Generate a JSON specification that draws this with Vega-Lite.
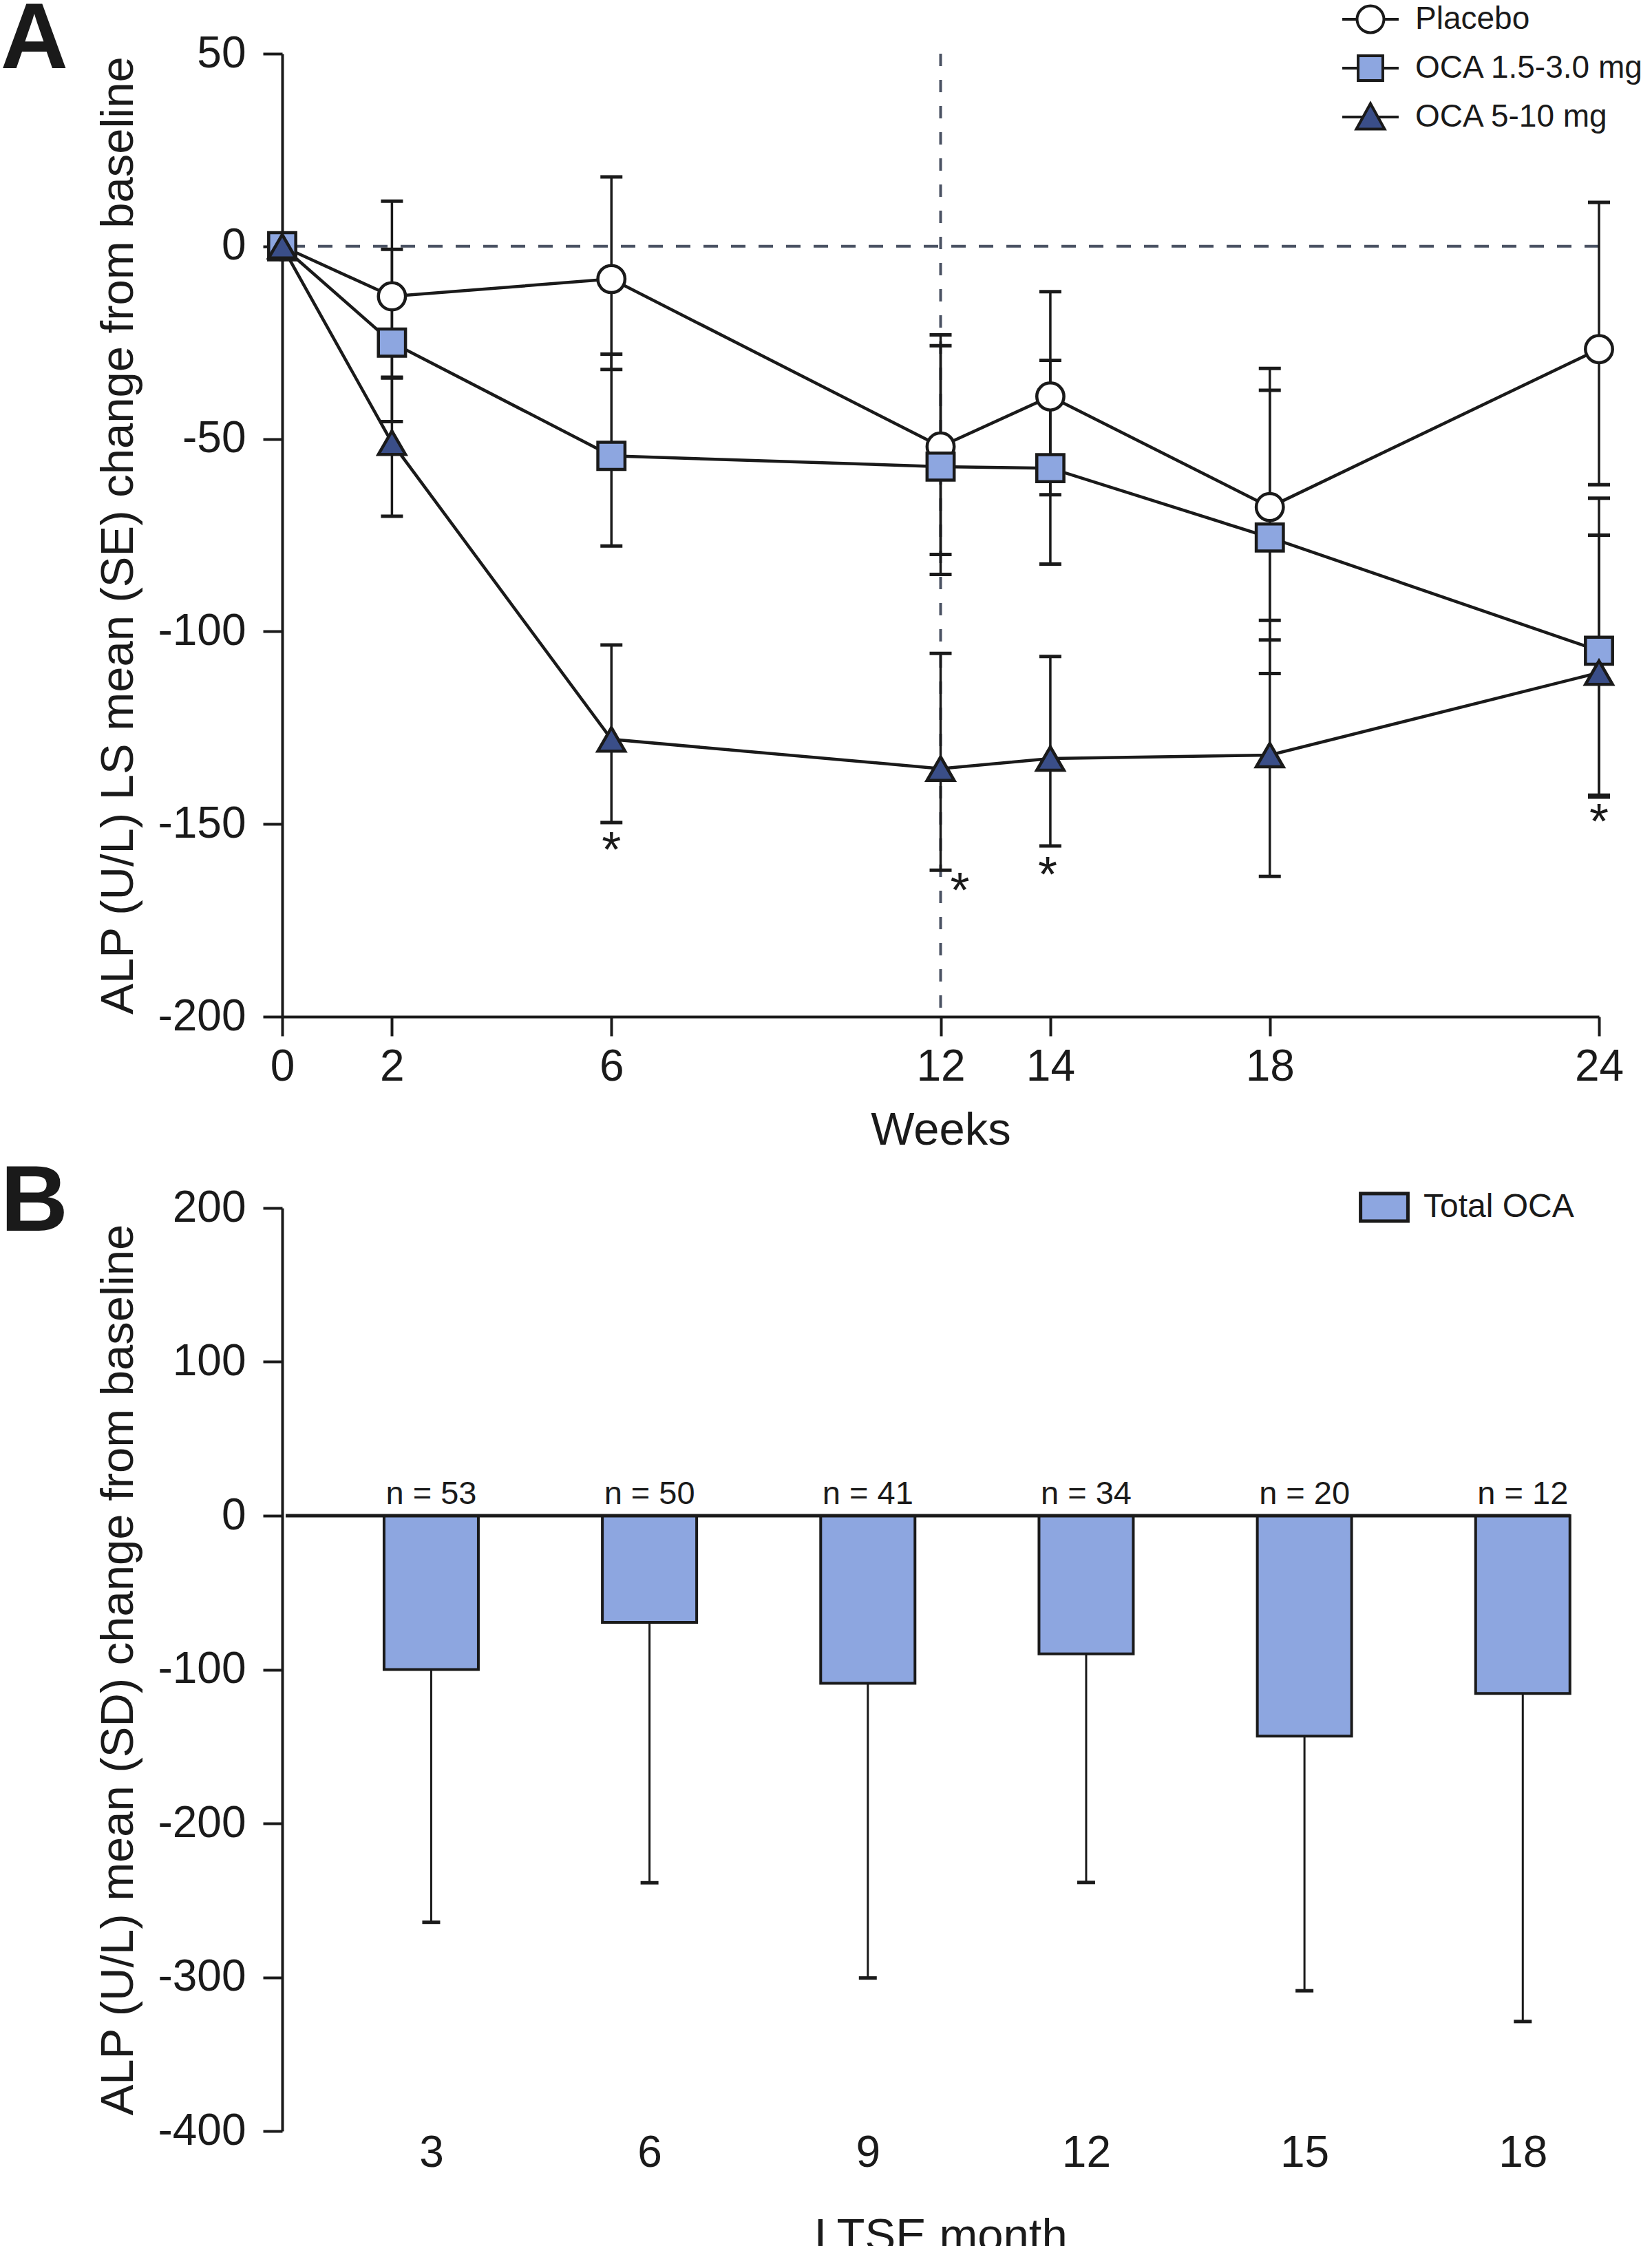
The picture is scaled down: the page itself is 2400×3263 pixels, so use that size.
{
  "$schema": "https://vega.github.io/schema/vega-lite/v6.json",
  "background": "white",
  "padding": {"top": -10, "left": 0, "right": 0, "bottom": 0},
  "spacing": 4,
  "resolve": {"scale": {"fill": "independent", "shape": "independent"}, "legend": {"fill": "independent", "shape": "independent"}},
  "config": {
    "font": "Liberation Sans",
    "view": {"stroke": null},
    "axis": {
      "labelFont": "Liberation Sans", "titleFont": "Liberation Sans",
      "labelColor": "#1a1a1a", "titleColor": "#1a1a1a",
      "domainColor": "#1a1a1a", "tickColor": "#1a1a1a",
      "grid": false, "labelFontSize": 64, "titleFontSize": 67, "titleFontWeight": "normal",
      "domainWidth": 4, "tickWidth": 4, "tickSize": 28, "labelPadding": 25, "titlePadding": 22,
      "labelFlush": false,
      "labelExpr": "'' + datum.value"
    },
    "legend": {"labelFont": "Liberation Sans", "labelColor": "#1a1a1a", "labelLimit": 0}
  },
  "datasets": {
    "a": [
      {"week": 0, "group": "Placebo", "mean": 0, "lo": null, "hi": null},
      {"week": 2, "group": "Placebo", "mean": -13, "lo": -34, "hi": 11.7},
      {"week": 6, "group": "Placebo", "mean": -8.5, "lo": -32, "hi": 18},
      {"week": 12, "group": "Placebo", "mean": -52, "lo": -80, "hi": -23},
      {"week": 14, "group": "Placebo", "mean": -39, "lo": -64.5, "hi": -11.8},
      {"week": 18, "group": "Placebo", "mean": -67.7, "lo": -102.2, "hi": -31.7},
      {"week": 24, "group": "Placebo", "mean": -26.7, "lo": -61.9, "hi": 11.4},
      {"week": 0, "group": "OCA 1.5-3.0 mg", "mean": 0, "lo": null, "hi": null},
      {"week": 2, "group": "OCA 1.5-3.0 mg", "mean": -25, "lo": -45.5, "hi": -0.8},
      {"week": 6, "group": "OCA 1.5-3.0 mg", "mean": -54.4, "lo": -77.8, "hi": -28},
      {"week": 12, "group": "OCA 1.5-3.0 mg", "mean": -57.2, "lo": -85.2, "hi": -25.8},
      {"week": 14, "group": "OCA 1.5-3.0 mg", "mean": -57.6, "lo": -82.5, "hi": -29.6},
      {"week": 18, "group": "OCA 1.5-3.0 mg", "mean": -75.6, "lo": -110.9, "hi": -37.4},
      {"week": 24, "group": "OCA 1.5-3.0 mg", "mean": -105, "lo": -142.5, "hi": -65.4},
      {"week": 0, "group": "OCA 5-10 mg", "mean": 0, "lo": null, "hi": null},
      {"week": 2, "group": "OCA 5-10 mg", "mean": -51, "lo": -70.1, "hi": -34.2},
      {"week": 6, "group": "OCA 5-10 mg", "mean": -128, "lo": -149.6, "hi": -103.5},
      {"week": 12, "group": "OCA 5-10 mg", "mean": -135.6, "lo": -162, "hi": -105.7},
      {"week": 14, "group": "OCA 5-10 mg", "mean": -133, "lo": -155.7, "hi": -106.5},
      {"week": 18, "group": "OCA 5-10 mg", "mean": -132.1, "lo": -163.6, "hi": -97.1},
      {"week": 24, "group": "OCA 5-10 mg", "mean": -110.7, "lo": -143, "hi": -75}
    ],
    "stars": [
      {"week": 6, "value": -155.4, "sig": "*"},
      {"week": 12.35, "value": -165.9, "sig": "*"},
      {"week": 13.95, "value": -161.8, "sig": "*"},
      {"week": 24, "value": -148, "sig": "*"}
    ],
    "b": [
      {"month": 3, "group": "Total OCA", "mean": -100, "low": -264.3, "n": "n = 53"},
      {"month": 6, "group": "Total OCA", "mean": -69.3, "low": -238.6, "n": "n = 50"},
      {"month": 9, "group": "Total OCA", "mean": -109, "low": -300.5, "n": "n = 41"},
      {"month": 12, "group": "Total OCA", "mean": -89.8, "low": -238.4, "n": "n = 34"},
      {"month": 15, "group": "Total OCA", "mean": -143.3, "low": -308.8, "n": "n = 20"},
      {"month": 18, "group": "Total OCA", "mean": -115.6, "low": -328.8, "n": "n = 12"}
    ]
  },
  "vconcat": [
    {
      "width": 1913,
      "height": 1399,
      "title": {"text": "A", "orient": "left", "anchor": "end", "frame": "group", "angle": 0, "align": "left", "baseline": "alphabetic", "dy": 21, "offset": 40, "fontSize": 136, "fontWeight": "bold", "color": "#1a1a1a", "font": "Liberation Sans"},
      "resolve": {"scale": {"shape": "independent", "fill": "independent"}},
      "layer": [
        {
          "data": {"values": [{}]},
          "mark": {"type": "rule", "strokeDash": [21, 19], "strokeWidth": 4, "color": "#4a5263"},
          "encoding": {
            "y": {"datum": 0, "type": "quantitative", "scale": {"domain": [-200, 50], "nice": false, "zero": false},
              "axis": {"values": [50, 0, -50, -100, -150, -200], "title": "ALP (U/L) LS mean (SE) change from baseline"}}
          }
        },
        {
          "data": {"values": [{}]},
          "mark": {"type": "rule", "strokeDash": [18, 20], "strokeWidth": 4, "color": "#4a5263"},
          "encoding": {
            "x": {"datum": 12, "type": "quantitative", "scale": {"domain": [0, 24], "nice": false, "zero": false},
              "axis": {"values": [0, 2, 6, 12, 14, 18, 24], "title": "Weeks", "labelPadding": 13, "titlePadding": 27}}
          }
        },
        {
          "data": {"name": "a"},
          "transform": [{"filter": "isValid(datum.lo)"}],
          "mark": {"type": "rule", "strokeWidth": 3.5, "color": "#1a1a1a"},
          "encoding": {
            "x": {"field": "week", "type": "quantitative"},
            "y": {"field": "lo", "type": "quantitative"},
            "y2": {"field": "hi"}
          }
        },
        {
          "data": {"name": "a"},
          "transform": [{"filter": "isValid(datum.lo)"}],
          "mark": {"type": "tick", "orient": "horizontal", "size": 32, "thickness": 5, "color": "#1a1a1a", "opacity": 1},
          "encoding": {
            "x": {"field": "week", "type": "quantitative"},
            "y": {"field": "lo", "type": "quantitative"}
          }
        },
        {
          "data": {"name": "a"},
          "transform": [{"filter": "isValid(datum.hi)"}],
          "mark": {"type": "tick", "orient": "horizontal", "size": 32, "thickness": 5, "color": "#1a1a1a", "opacity": 1},
          "encoding": {
            "x": {"field": "week", "type": "quantitative"},
            "y": {"field": "hi", "type": "quantitative"}
          }
        },
        {
          "data": {"name": "a"},
          "mark": {"type": "line", "strokeWidth": 4.5, "color": "#1a1a1a"},
          "encoding": {
            "x": {"field": "week", "type": "quantitative"},
            "y": {"field": "mean", "type": "quantitative"},
            "detail": {"field": "group"}
          }
        },
        {
          "data": {"name": "a"},
          "mark": {"type": "point", "filled": true, "stroke": "#1a1a1a", "strokeWidth": 4.5, "size": 1550, "opacity": 1},
          "encoding": {
            "x": {"field": "week", "type": "quantitative"},
            "y": {"field": "mean", "type": "quantitative"},
            "shape": {"field": "group", "type": "nominal", "scale": {"domain": ["Placebo", "OCA 1.5-3.0 mg", "OCA 5-10 mg"], "range": ["circle", "square", "triangle-up"]}, "legend": null},
            "fill": {"field": "group", "type": "nominal", "scale": {"domain": ["Placebo", "OCA 1.5-3.0 mg", "OCA 5-10 mg"], "range": ["#ffffff", "#8da6e0", "#3a4e88"]}, "legend": null}
          }
        },
        {
          "data": {"name": "stars"},
          "mark": {"type": "text", "fontSize": 72, "baseline": "alphabetic", "align": "center", "dy": 32, "color": "#1a1a1a", "font": "Liberation Sans"},
          "encoding": {
            "x": {"field": "week", "type": "quantitative"},
            "y": {"field": "value", "type": "quantitative"},
            "text": {"field": "sig"}
          }
        },
        {
          "data": {"name": "a"},
          "transform": [{"filter": "datum.week < 0"}],
          "mark": {"type": "point", "filled": false, "stroke": "#1a1a1a", "strokeWidth": 4, "size": 1521, "opacity": 1},
          "encoding": {
            "x": {"field": "week", "type": "quantitative"},
            "y": {"field": "mean", "type": "quantitative"},
            "shape": {"field": "group", "type": "nominal",
              "scale": {"domain": ["Placebo", "OCA 1.5-3.0 mg", "OCA 5-10 mg"],
                "range": ["M-2.1,0H-1M1,0H2.1M-1,0A1,1 0 1,1 1,0A1,1 0 1,1 -1,0Z", "M-2.1,0H-0.92M0.92,0H2.1M-0.92,-0.92H0.92V0.92H-0.92Z", "M-2.1,0H-0.55M0.55,0H2.1M0,-1L1.05,0.9H-1.05Z"]},
              "legend": {"orient": "none", "legendX": 1558, "legendY": -73, "title": null, "labelFontSize": 46, "symbolSize": 1521, "symbolStrokeWidth": 4, "symbolStrokeColor": "#1a1a1a", "symbolOpacity": 1, "labelOffset": 42, "rowPadding": 17, "padding": 0, "labelLimit": 0,
                "encode": {"symbols": {"update": {"stroke": {"value": "#1a1a1a"}, "strokeWidth": {"value": 4}, "opacity": {"value": 1}}}}}},
            "fill": {"field": "group", "type": "nominal",
              "scale": {"domain": ["Placebo", "OCA 1.5-3.0 mg", "OCA 5-10 mg"], "range": ["#ffffff", "#8da6e0", "#3a4e88"]},
              "legend": {"orient": "none", "legendX": 1558, "legendY": -73, "title": null, "labelFontSize": 46, "symbolSize": 1521, "symbolStrokeWidth": 4, "symbolStrokeColor": "#1a1a1a", "symbolOpacity": 1, "labelOffset": 42, "rowPadding": 17, "padding": 0, "labelLimit": 0,
                "encode": {"symbols": {"update": {"stroke": {"value": "#1a1a1a"}, "strokeWidth": {"value": 4}, "opacity": {"value": 1}}}}}}
          }
        }
      ]
    },
    {
      "width": 1913,
      "height": 1341,
      "title": {"text": "B", "orient": "left", "anchor": "end", "frame": "group", "angle": 0, "align": "left", "baseline": "alphabetic", "dy": 33, "offset": 40, "fontSize": 136, "fontWeight": "bold", "color": "#1a1a1a", "font": "Liberation Sans"},
      "data": {"name": "b"},
      "layer": [
        {
          "mark": {"type": "rule", "strokeWidth": 3, "color": "#1a1a1a"},
          "encoding": {
            "x": {"field": "month", "type": "quantitative", "scale": {"domain": [1, 19], "nice": false, "zero": false},
              "axis": {"values": [3, 6, 9, 12, 15, 18], "domain": false, "ticks": false, "tickSize": 0, "labelPadding": 0, "title": "LTSE month", "titlePadding": 56}},
            "y": {"field": "mean", "type": "quantitative", "scale": {"domain": [-400, 200], "nice": false, "zero": false},
              "axis": {"values": [200, 100, 0, -100, -200, -300, -400], "title": "ALP (U/L) mean (SD) change from baseline"}},
            "y2": {"field": "low"}
          }
        },
        {
          "mark": {"type": "tick", "orient": "horizontal", "size": 26, "thickness": 5, "color": "#1a1a1a", "opacity": 1},
          "encoding": {
            "x": {"field": "month", "type": "quantitative"},
            "y": {"field": "low", "type": "quantitative"}
          }
        },
        {
          "mark": {"type": "bar", "width": 137, "stroke": "#1a1a1a", "strokeWidth": 4, "opacity": 1},
          "encoding": {
            "x": {"field": "month", "type": "quantitative"},
            "y": {"field": "mean", "type": "quantitative"},
            "y2": {"datum": 0},
            "fill": {"field": "group", "type": "nominal", "scale": {"domain": ["Total OCA"], "range": ["#8da6e0"]},
              "legend": {"orient": "none", "legendX": 1577, "legendY": -25, "title": null, "labelFontSize": 48, "symbolType": "M-1.72,-1H1.72V1H-1.72Z", "symbolSize": 1600, "symbolStrokeWidth": 5, "symbolStrokeColor": "#1a1a1a", "symbolOpacity": 1, "labelOffset": 33, "padding": 0, "labelLimit": 0}}
          }
        },
        {
          "data": {"values": [{}]},
          "mark": {"type": "rule", "strokeWidth": 5, "color": "#1a1a1a"},
          "encoding": {
            "x": {"datum": 1, "type": "quantitative"},
            "x2": {"datum": 18.65},
            "y": {"datum": 0, "type": "quantitative"}
          }
        },
        {
          "mark": {"type": "text", "fontSize": 47, "baseline": "alphabetic", "align": "center", "dy": -17, "color": "#1a1a1a", "font": "Liberation Sans"},
          "encoding": {
            "x": {"field": "month", "type": "quantitative"},
            "y": {"datum": 0, "type": "quantitative"},
            "text": {"field": "n"}
          }
        }
      ]
    }
  ]
}
